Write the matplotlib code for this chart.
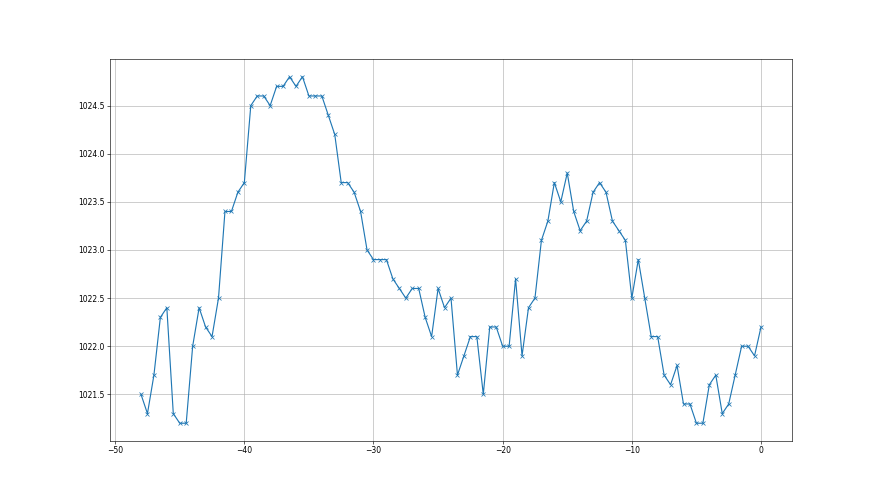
import numpy as np
import matplotlib
matplotlib.use('Agg')
import matplotlib.pyplot as plt

##DATA - half-hour steps back from now

hours = np.arange(-48, 0.5, 0.5)

pressure = [
    1021.5, 1021.3, 1021.7, 1022.3, 1022.4, 1021.3, 1021.2, 1021.2, 1022.0, 1022.4,
    1022.2, 1022.1, 1022.5, 1023.4, 1023.4, 1023.6, 1023.7, 1024.5, 1024.6, 1024.6,
    1024.5, 1024.7, 1024.7, 1024.8, 1024.7, 1024.8, 1024.6, 1024.6, 1024.6, 1024.4,
    1024.2, 1023.7, 1023.7, 1023.6, 1023.4, 1023.0, 1022.9, 1022.9, 1022.9, 1022.7,
    1022.6, 1022.5, 1022.6, 1022.6, 1022.3, 1022.1, 1022.6, 1022.4, 1022.5, 1021.7,
    1021.9, 1022.1, 1022.1, 1021.5, 1022.2, 1022.2, 1022.0, 1022.0, 1022.7, 1021.9,
    1022.4, 1022.5, 1023.1, 1023.3, 1023.7, 1023.5, 1023.8, 1023.4, 1023.2, 1023.3,
    1023.6, 1023.7, 1023.6, 1023.3, 1023.2, 1023.1, 1022.5, 1022.9, 1022.5, 1022.1,
    1022.1, 1021.7, 1021.6, 1021.8, 1021.4, 1021.4, 1021.2, 1021.2, 1021.6, 1021.7,
    1021.3, 1021.4, 1021.7, 1022.0, 1022.0, 1021.9, 1022.2,
]

##PLOT

fig, ax = plt.subplots(figsize=(16, 9), dpi=55)
ax.plot(hours, pressure, marker='x', color='#1f77b4')
ax.ticklabel_format(useOffset=False)
ax.grid(True)
fig.savefig('out.png', dpi=55)
